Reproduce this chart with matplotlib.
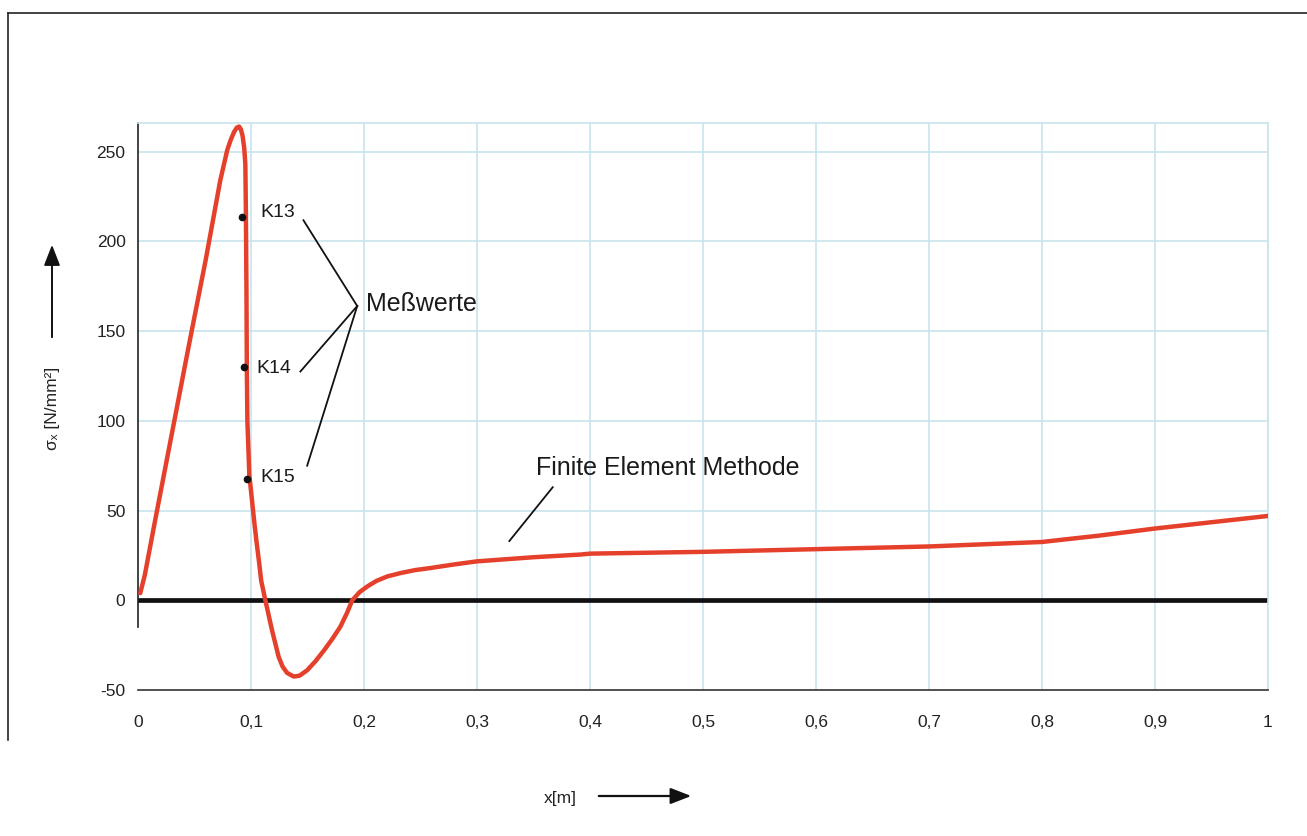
import matplotlib
matplotlib.use("Agg")
import matplotlib.pyplot as plt
from matplotlib.lines import Line2D

plt.rcParams['font.family'] = ['Liberation Sans', 'DejaVu Sans']
plt.rcParams['axes.unicode_minus'] = False

# FE curve (x in m, sigma_x in N/mm^2)
fe_x = [0.002, 0.006, 0.015, 0.03, 0.045, 0.06, 0.0728, 0.079, 0.082, 0.085,
        0.0875, 0.0895, 0.091, 0.0925, 0.094, 0.095, 0.0955, 0.096, 0.0963,
        0.0968, 0.0985, 0.101, 0.103, 0.105, 0.107, 0.109, 0.1127, 0.1186,
        0.1245, 0.128, 0.132, 0.1378, 0.143, 0.1497, 0.157, 0.1645, 0.172,
        0.179, 0.185, 0.1896, 0.196, 0.2029, 0.211, 0.2206, 0.2325, 0.245,
        0.259, 0.28, 0.3, 0.35, 0.392, 0.4, 0.5, 0.6, 0.7, 0.8, 0.85, 0.9, 1.0]
fe_y = [4, 14, 44, 93, 142, 190, 234, 251, 256.5, 261,
        263.5, 264, 262.5, 259, 252, 243, 215, 170, 130,
        100, 70, 55, 43, 32, 22, 11, 0, -16.7,
        -31.6, -37, -40.5, -42.5, -42, -39, -34, -28, -21.5,
        -14.8, -7, 0, 4.5, 7.7, 10.8, 13.3, 15.2, 16.8,
        18, 20, 21.7, 24, 25.5, 26, 27, 28.5, 30, 32.5, 36, 40, 47]

# measured values
meas_names = ["K13", "K14", "K15"]
meas_x = [0.092, 0.0935, 0.0964]
meas_y = [213.6, 130, 67.6]

xticks = [0, 0.1, 0.2, 0.3, 0.4, 0.5, 0.6, 0.7, 0.8, 0.9, 1.0]
xticklabels = ["0", "0,1", "0,2", "0,3", "0,4", "0,5", "0,6", "0,7", "0,8", "0,9", "1"]
yticks = [-50, 0, 50, 100, 150, 200, 250]

W, H = 1307, 836
fig = plt.figure(figsize=(W / 100, H / 100), dpi=100)
ax = fig.add_axes([138 / W, 1 - 690 / H, (1268 - 138) / W, (690 - 123) / H])

grid_c = '#c9e4ee'
ax.set_xlim(0, 1)
ax.set_ylim(-50, 266)
for xv in xticks[1:]:
    ax.axvline(xv, color=grid_c, lw=1.2, zorder=0)
for yv in yticks[1:]:
    ax.axhline(yv, color=grid_c, lw=1.2, zorder=0)

ax.set_xticks(xticks)
ax.set_xticklabels(xticklabels)
ax.set_yticks(yticks)
ax.tick_params(axis='both', length=0, labelsize=12.5, colors='#222222')
ax.tick_params(axis='y', pad=9)
ax.tick_params(axis='x', pad=18)

for s in ['top', 'right']:
    ax.spines[s].set_color(grid_c)
    ax.spines[s].set_linewidth(1.2)
ax.spines['left'].set_color('#222222')
ax.spines['left'].set_linewidth(1.2)
ax.spines['left'].set_bounds(-15, 266)
ax.spines['bottom'].set_color('#333333')
ax.spines['bottom'].set_linewidth(1.2)

# zero line
ax.axhline(0, color='#111111', lw=3.4, zorder=2)

# FE curve
ax.plot(fe_x, fe_y, color='#e5402b', lw=3.2, solid_capstyle='round',
        solid_joinstyle='round', zorder=3)

# measured points
ax.plot(meas_x, meas_y, 'o', color='#111111', ms=4.5, zorder=4)
label_pos = [(0.108, 216), (0.1045, 129), (0.1085, 68.5)]
line_start = [(0.1464, 211.8), (0.1437, 127.5), (0.1497, 75)]
conv = (0.194, 164)
for name, (lx, ly), (sx, sy) in zip(meas_names, label_pos, line_start):
    ax.text(lx, ly, name, fontsize=14, va='center', ha='left', color='#1a1a1a', zorder=5)
    ax.plot([sx, conv[0]], [sy, conv[1]], color='#111111', lw=1.3, zorder=5)
ax.text(0.2015, 165, "Meßwerte", fontsize=18, va='center', ha='left', color='#1a1a1a')

ax.text(0.352, 74, "Finite Element Methode", fontsize=18, va='center', ha='left',
        color='#1a1a1a')
ax.plot([0.3286, 0.367], [33, 63], color='#111111', lw=1.3)

# axis labels with arrows
fig.text(52 / W, 1 - 408 / H, "σₓ [N/mm²]", rotation=90, fontsize=12.5,
         ha='center', va='center', color='#222222',
         family=['Liberation Sans', 'DejaVu Sans'])
fig.add_artist(matplotlib.patches.FancyArrowPatch(
    (52 / W, 1 - 340 / H), (52 / W, 1 - 242 / H), transform=fig.transFigure,
    arrowstyle='-|>,head_length=0.9,head_width=0.35', mutation_scale=14,
    color='#111111', lw=1.4))
fig.text(560 / W, 1 - 799 / H, "x[m]", fontsize=12.5, ha='center', va='center',
         color='#222222')
fig.add_artist(matplotlib.patches.FancyArrowPatch(
    (596 / W, 1 - 796 / H), (694 / W, 1 - 796 / H), transform=fig.transFigure,
    arrowstyle='-|>,head_length=0.9,head_width=0.35', mutation_scale=14,
    color='#111111', lw=1.6))

# scan frame lines
fig.add_artist(Line2D([8 / W, 1], [1 - 13 / H, 1 - 13 / H], transform=fig.transFigure,
                      color='#222222', lw=1.2))
fig.add_artist(Line2D([8 / W, 8 / W], [1 - 13 / H, 1 - 740 / H], transform=fig.transFigure,
                      color='#222222', lw=1.2))

fig.savefig("out.png", dpi=100)
